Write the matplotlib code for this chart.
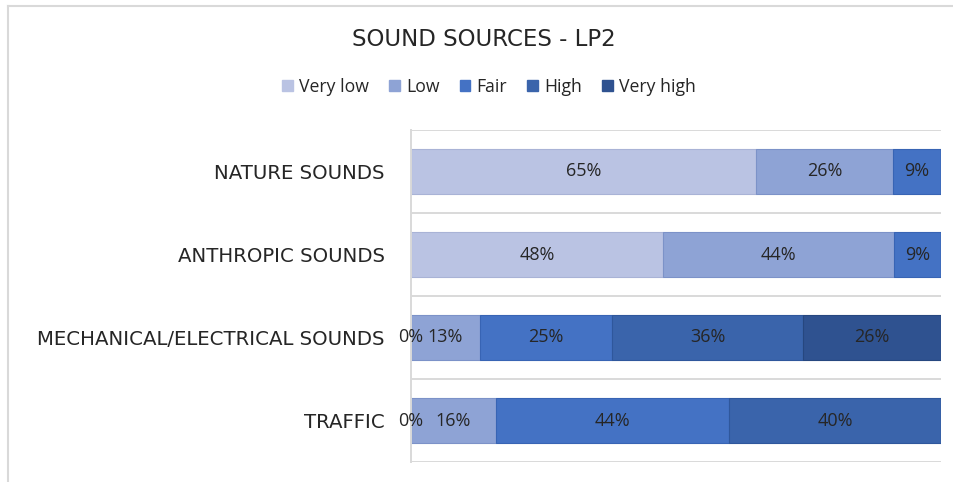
import numpy as np
import matplotlib
matplotlib.use("Agg")
import matplotlib.pyplot as plt
from matplotlib.patches import Patch
from matplotlib.lines import Line2D

# Survey answers per sound source (percent); NaN = no answer in that class
categories = ["NATURE SOUNDS", "ANTHROPIC SOUNDS",
              "MECHANICAL/ELECTRICAL SOUNDS", "TRAFFIC"]
levels = ["Very low", "Low", "Fair", "High", "Very high"]
very_low = [65, 48, 0, 0]
low = [26, 44, 13, 16]
fair = [9, 9, 25, 44]
high = [np.nan, np.nan, 36, 40]
very_high = [np.nan, np.nan, 26, np.nan]

colors = ["#BAC3E3", "#8EA3D5", "#4472C4", "#3A64AB", "#2F5290"]
edges = ["#A9B3D6", "#7C92C8", "#3864B4", "#2F579C", "#26477F"]

series = np.array([very_low, low, fair, high, very_high], dtype=float)
totals = np.nansum(series, axis=0)
shares = np.nan_to_num(series) / totals * 100.0

W, H, DPI = 954, 482, 100
fig = plt.figure(figsize=(W / DPI, H / DPI), dpi=DPI)
fig.patch.set_facecolor("white")

ax = fig.add_axes([411 / W, 1 - 462 / H, (941 - 411) / W, (462 - 130) / H])
ypos = np.arange(len(categories))
left = np.zeros(len(categories))
txt = "#262626"
label_font = "Open Sans"

for i, name in enumerate(levels):
    ax.barh(ypos, shares[i], left=left, height=0.54, color=colors[i],
            edgecolor=edges[i], linewidth=0.8, label=name, zorder=3)
    for j in range(len(categories)):
        v = series[i, j]
        if np.isnan(v):
            continue
        ax.text(left[j] + shares[i, j] / 2, ypos[j], f"{int(v)}%",
                ha="center", va="center", fontsize=13, color=txt,
                family=label_font, zorder=5)
    left += shares[i]

ax.set_xlim(0, 100)
ax.set_ylim(len(categories) - 0.5, -0.5)
ax.set_yticks(ypos)
ax.set_yticklabels(categories, family="DejaVu Sans", fontsize=14.2, color=txt)
ax.tick_params(axis="y", length=0, pad=19)
ax.set_xticks([])
for s in ["top", "right", "bottom"]:
    ax.spines[s].set_visible(False)
ax.spines["left"].set_color("#D9D9D9")
ax.spines["left"].set_linewidth(1.4)
ax.spines["left"].set_zorder(4)
for b in np.arange(-0.5, len(categories), 1.0):
    ax.axhline(b, color="#D9D9D9", linewidth=1.4, zorder=1)

fig.text(484 / W, 1 - 40 / H, "SOUND SOURCES - LP2", ha="center", va="center",
         family="DejaVu Sans", fontsize=16.5, color=txt)

handles = [Patch(facecolor=c, edgecolor=c) for c in colors]
fig.legend(handles, levels, loc="center", bbox_to_anchor=(489 / W, 1 - 87 / H),
           ncol=5, frameon=False, handlelength=0.6, handleheight=0.6,
           handletextpad=0.35, columnspacing=1.15,
           prop={"family": label_font, "size": 12.7}, labelcolor=txt)

# chart frame, top and left edges
fig.add_artist(Line2D([8 / W, 1.0], [1 - 6 / H, 1 - 6 / H], color="#D9D9D9",
                      linewidth=1.5, transform=fig.transFigure))
fig.add_artist(Line2D([8 / W, 8 / W], [0, 1 - 6 / H], color="#D9D9D9",
                      linewidth=1.5, transform=fig.transFigure))

fig.savefig("out.png", dpi=DPI, facecolor="white")
